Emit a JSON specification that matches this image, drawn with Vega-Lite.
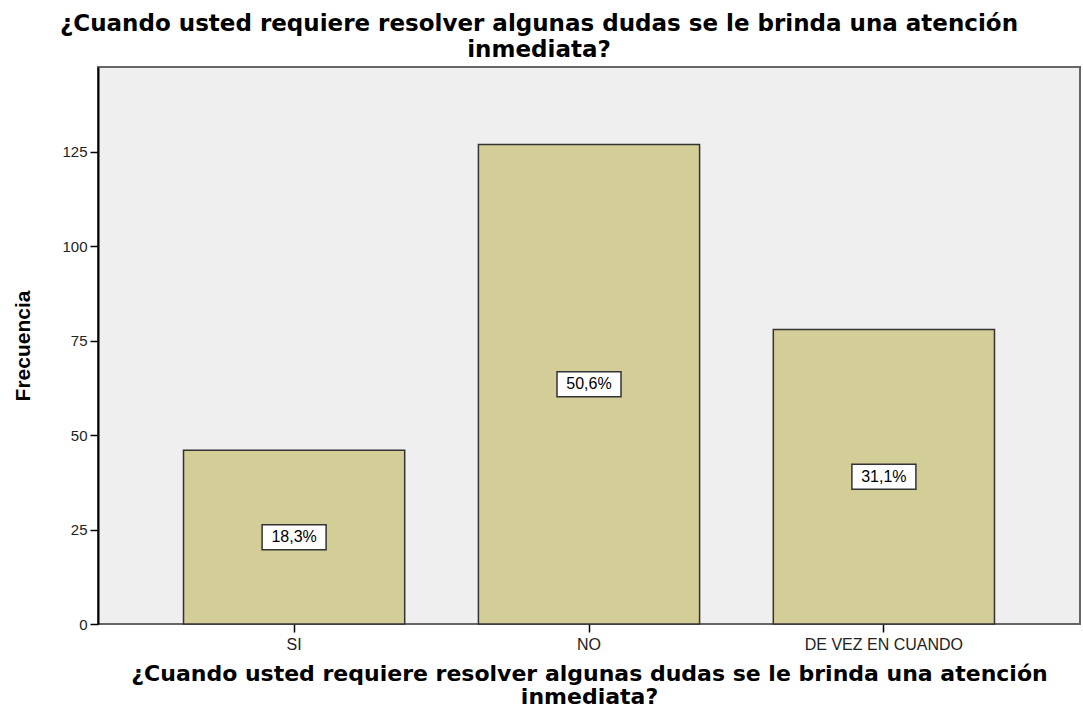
{
  "$schema": "https://vega.github.io/schema/vega-lite/v6.json",
  "autosize": "none",
  "width": 982,
  "height": 557,
  "padding": {"left": 98, "top": 67, "right": 3, "bottom": 86},
  "background": "white",
  "config": {
    "view": {"fill": "#EFEFEF", "stroke": "#666666", "strokeWidth": 2},
    "font": "Liberation Sans"
  },
  "title": {
    "text": ["¿Cuando usted requiere resolver algunas dudas se le brinda una atención", "inmediata?"],
    "anchor": "middle",
    "frame": "group",
    "dx": -50,
    "offset": 5,
    "font": "DejaVu Sans",
    "fontSize": 23,
    "fontWeight": "bold",
    "lineHeight": 26,
    "color": "#000000"
  },
  "data": {
    "values": [
      {"respuesta": "SI", "frecuencia": 46, "porcentaje": "18,3%"},
      {"respuesta": "NO", "frecuencia": 127, "porcentaje": "50,6%"},
      {"respuesta": "DE VEZ EN CUANDO", "frecuencia": 78, "porcentaje": "31,1%"}
    ]
  },
  "encoding": {
    "x": {
      "field": "respuesta",
      "type": "nominal",
      "sort": null,
      "scale": {"paddingInner": 0.25, "paddingOuter": 0.29},
      "axis": {
        "title": ["¿Cuando usted requiere resolver algunas dudas se le brinda una atención", "inmediata?"],
        "titleFont": "DejaVu Sans",
        "titleFontSize": 22,
        "titleFontWeight": "bold",
        "titleColor": "#000000",
        "titleLineHeight": 23,
        "titlePadding": 11,
        "labelAngle": 0,
        "labelFont": "Liberation Sans",
        "labelFontSize": 16,
        "labelColor": "#222222",
        "labelPadding": 4,
        "tickSize": 8,
        "tickColor": "#000000",
        "tickWidth": 1.5,
        "domain": false,
        "grid": false
      }
    }
  },
  "layer": [
    {
      "mark": {"type": "bar", "fill": "#D3CE97", "stroke": "#333333", "strokeWidth": 1.5},
      "encoding": {
        "y": {
          "field": "frecuencia",
          "type": "quantitative",
          "scale": {"domain": [0, 147.5], "nice": false},
          "axis": {
            "title": "Frecuencia",
            "titleFont": "Liberation Sans",
            "titleFontSize": 21,
            "titleFontWeight": "bold",
            "titleColor": "#000000",
            "titlePadding": 28,
            "values": [0, 25, 50, 75, 100, 125],
            "labelFont": "Liberation Sans",
            "labelFontSize": 15,
            "labelColor": "#222222",
            "labelPadding": 3,
            "tickSize": 8,
            "tickColor": "#000000",
            "tickWidth": 1.5,
            "domainColor": "#000000",
            "domainWidth": 2,
            "grid": false
          }
        }
      }
    },
    {
      "transform": [{"calculate": "datum.frecuencia / 2", "as": "centro"}],
      "mark": {
        "type": "point",
        "shape": "M-1,-0.39L1,-0.39L1,0.39L-1,0.39Z",
        "size": 4096,
        "filled": true,
        "fill": "#FFFFFF",
        "stroke": "#333333",
        "strokeWidth": 1.5,
        "opacity": 1
      },
      "encoding": {
        "y": {"field": "centro", "type": "quantitative"}
      }
    },
    {
      "transform": [{"calculate": "datum.frecuencia / 2", "as": "centro"}],
      "mark": {
        "type": "text",
        "font": "Liberation Sans",
        "fontSize": 16,
        "color": "#000000",
        "baseline": "middle",
        "align": "center"
      },
      "encoding": {
        "y": {"field": "centro", "type": "quantitative"},
        "text": {"field": "porcentaje"}
      }
    }
  ]
}
